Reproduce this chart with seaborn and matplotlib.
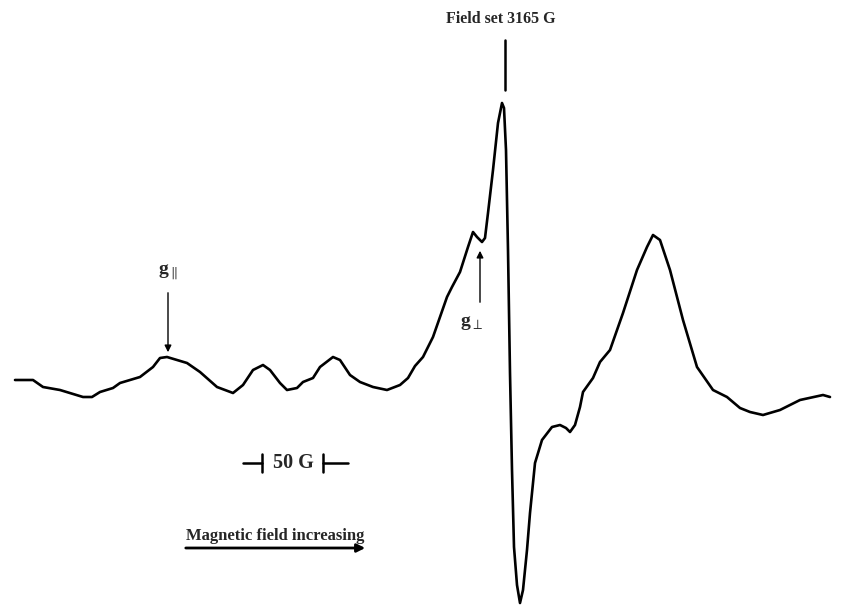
import numpy as np
import pandas as pd
import seaborn as sns
import matplotlib.pyplot as plt

# EPR trace (x = field position, signal = amplitude above baseline)
field = [15, 33, 43, 60, 83, 92, 100, 113, 120, 140, 153, 160, 167, 187, 200, 217,
         233, 243, 253, 263, 270, 280, 287, 297, 303, 313, 320, 333, 340, 350, 360,
         373, 387, 400, 408, 415, 423, 433, 447, 452, 460, 468, 473, 477, 482, 485,
         488, 493, 498, 502, 504, 506, 508, 510, 512, 514, 517, 520, 523, 527, 530,
         535, 542, 552, 560, 566, 570, 575, 580, 583, 593, 600, 610, 623, 637, 647,
         653, 660, 670, 683, 697, 713, 727, 740, 750, 763, 780, 800, 823, 830]
signal = [0, 0, -7, -10, -17, -17, -12, -8, -3, 3, 13, 22, 23, 17, 8, -7,
          -13, -5, 10, 15, 10, -3, -10, -8, -2, 2, 13, 23, 20, 5, -2,
          -7, -10, -5, 2, 14, 23, 43, 83, 93, 108, 133, 148, 143, 138, 142,
          167, 210, 257, 277, 272, 230, 130, 7, -90, -167, -205, -223, -210, -170, -133,
          -83, -60, -47, -45, -48, -52, -45, -27, -12, 2, 18, 30, 67, 110, 133,
          145, 140, 110, 60, 13, -10, -17, -28, -32, -35, -30, -20, -15, -17]

df = pd.DataFrame({"field": field, "signal": signal})

sns.set_style("white")
serif = ["Liberation Serif", "DejaVu Serif"]
plt.rcParams["mathtext.fontset"] = "custom"
plt.rcParams["mathtext.rm"] = "Liberation Serif"
plt.rcParams["mathtext.bf"] = "Liberation Serif:bold"

fig = plt.figure(figsize=(8.44, 6.07), dpi=100)
ax = fig.add_axes([0, 0, 1, 1])
sns.lineplot(data=df, x="field", y="signal", sort=False, color="black",
             linewidth=1.9, ax=ax)
ax.lines[0].set_solid_joinstyle("round")
ax.set_xlim(0, 844)
ax.set_ylim(-227, 380)
ax.set_axis_off()

# field set marker
ax.text(501, 361, "Field set 3165 G", ha="center", va="center",
        fontsize=11.5, fontweight="bold", family=serif)
ax.plot([505, 505], [340, 290], color="black", lw=1.8)

# g parallel
ax.text(168, 108, r"$\mathbf{g}_{\parallel}$", ha="center", va="center", fontsize=14)
ax.annotate("", xy=(168, 25), xytext=(168, 90),
            arrowprops=dict(arrowstyle="-|>", color="black", lw=1.0,
                            mutation_scale=10))

# g perpendicular
ax.text(472, 57, r"$\mathbf{g}_{\perp}$", ha="center", va="center", fontsize=14)
ax.annotate("", xy=(480, 132), xytext=(480, 75),
            arrowprops=dict(arrowstyle="-|>", color="black", lw=1.0,
                            mutation_scale=10))

# 50 G scale bar
ax.plot([243, 262], [-83, -83], color="black", lw=1.8)
ax.plot([262, 262], [-74, -92], color="black", lw=1.8)
ax.plot([323, 323], [-74, -92], color="black", lw=1.8)
ax.plot([323, 348], [-83, -83], color="black", lw=1.8)
ax.text(293, -83, "50 G", ha="center", va="center", fontsize=14.5,
        fontweight="bold", family=serif)

# direction arrow
ax.text(275, -156, "Magnetic field increasing", ha="center", va="center",
        fontsize=12, fontweight="bold", family=serif)
ax.annotate("", xy=(368, -168), xytext=(183, -168),
            arrowprops=dict(arrowstyle="-|>", color="black", lw=2.0,
                            mutation_scale=12))

fig.savefig("out.png", dpi=100)
